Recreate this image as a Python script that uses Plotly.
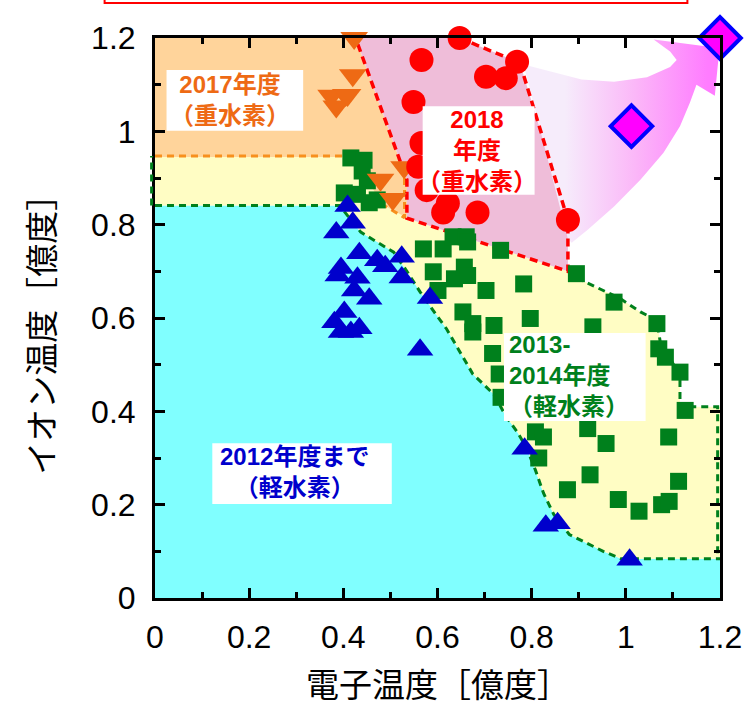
import plotly.graph_objects as go

# ---- axis ticks ----
x_ticks = [0, 0.2, 0.4, 0.6, 0.8, 1.0, 1.2]
x_tick_text = ["0", "0.2", "0.4", "0.6", "0.8", "1", "1.2"]
y_ticks = [0, 0.2, 0.4, 0.6, 0.8, 1.0, 1.2]
y_tick_text = ["0", "0.2", "0.4", "0.6", "0.8", "1", "1.2"]

# ---- measured points: electron temperature Te, ion temperature Ti [億度] ----
# up to FY2012, hydrogen
h2012_te = [0.409, 0.420, 0.385, 0.434, 0.472, 0.524, 0.489, 0.395, 0.388, 0.430,
            0.524, 0.423, 0.455, 0.402, 0.381, 0.434, 0.395, 0.416, 0.584, 0.563,
            0.785, 0.830, 0.855, 1.008]
h2012_ti = [0.840, 0.804, 0.783, 0.739, 0.724, 0.731, 0.711, 0.707, 0.691, 0.686,
            0.687, 0.659, 0.641, 0.613, 0.591, 0.578, 0.570, 0.570, 0.643, 0.532,
            0.320, 0.155, 0.160, 0.082]

# FY2013-2014, hydrogen
h2013_te = [0.416, 0.444, 0.440, 0.451, 0.402, 0.430, 0.455, 0.472,
            0.570, 0.612, 0.633, 0.661, 0.664, 0.734, 0.591, 0.636, 0.657, 0.664,
            0.601, 0.703, 0.783, 0.895, 0.975, 1.066, 0.654, 0.675, 0.720, 0.675,
            0.797, 0.930, 0.717, 0.731, 0.735, 1.070, 1.084, 1.115, 1.126, 0.808,
            0.825, 0.919, 0.958, 1.091, 0.815, 0.924, 0.876, 0.984, 1.028, 1.076,
            1.092, 1.112]
h2013_ti = [0.943, 0.938, 0.915, 0.894, 0.868, 0.865, 0.847, 0.853,
            0.748, 0.748, 0.774, 0.774, 0.763, 0.745, 0.699, 0.684, 0.709, 0.691,
            0.659, 0.659, 0.673, 0.695, 0.634, 0.588, 0.613, 0.588, 0.584, 0.570,
            0.599, 0.581, 0.524, 0.480, 0.430, 0.534, 0.516, 0.484, 0.402, 0.356,
            0.345, 0.363, 0.331, 0.345, 0.300, 0.264, 0.232, 0.211, 0.186, 0.200,
            0.207, 0.250]

# FY2017, deuterium
d2017_te = [0.423, 0.420, 0.405, 0.374, 0.385, 0.409, 0.529, 0.479, 0.505]
d2017_ti = [1.200, 1.120, 1.078, 1.076, 1.053, 1.078, 0.923, 0.896, 0.855]

# FY2018, deuterium
d2018_te = [0.647, 0.566, 0.703, 0.745, 0.769, 0.549, 0.566, 0.559, 0.577,
            0.622, 0.612, 0.685, 0.877]
d2018_ti = [1.200, 1.153, 1.117, 1.114, 1.149, 1.063, 0.975, 0.924, 0.874,
            0.846, 0.826, 0.826, 0.810]

# targets
goal_te = [1.012, 1.2]
goal_ti = [1.011, 1.2]

# ---- region outlines ----
# lower edge of the FY2013-2014 region (upper edge of the FY2012 region)
edge12_te = [0.392, 0.437, 0.479, 0.507, 0.535, 0.563, 0.598, 0.619, 0.675, 0.720,
             0.745, 0.770, 0.790, 0.808, 0.825, 0.847, 0.880, 0.952, 0.990, 1.2]
edge12_ti = [0.841, 0.784, 0.759, 0.741, 0.700, 0.656, 0.606, 0.577, 0.480, 0.436,
             0.390, 0.355, 0.320, 0.274, 0.225, 0.179, 0.136, 0.100, 0.084, 0.084]

# outer edge of the FY2013-2014 region, from the FY2018 corner to the right edge
edge13_te = [0.877, 0.892, 0.989, 1.031, 1.066, 1.073, 1.115, 1.115, 1.195]
edge13_ti = [0.700, 0.688, 0.641, 0.613, 0.595, 0.549, 0.477, 0.410, 0.410]

# FY2017 region
reg17_te = [0, 0, 0.426, 0.535, 0.535, 0.480, 0.440, 0.400]
reg17_ti = [0.945, 1.2, 1.2, 0.896, 0.815, 0.845, 0.920, 0.945]

# FY2018 region
reg18_te = [0.426, 0.647, 0.769, 0.780, 0.877, 0.877, 0.535, 0.535]
reg18_ti = [1.2, 1.2, 1.149, 1.130, 0.810, 0.700, 0.814, 0.896]

# arrow towards the goal
arrow_te = [0.783, 0.836, 0.906, 0.975, 1.045, 1.094, 1.108, 1.094, 1.059, 1.185,
            1.20, 1.189, 1.150, 1.136, 1.115, 1.080, 1.031, 0.975, 0.919, 0.885, 0.877]
arrow_ti = [1.143, 1.129, 1.111, 1.106, 1.116, 1.138, 1.153, 1.171, 1.197, 1.180,
            1.19, 1.076, 1.100, 1.061, 1.011, 0.954, 0.896, 0.839, 0.789, 0.761, 0.770]

# ---- colours ----
C_CYAN = "#80FFFF"
C_YELLOW = "#FFFDC4"
C_ORANGE_FILL = "#FFD49B"
C_PINK = "#EFBDD9"
C_GREEN = "#00801C"
C_BLUE = "#0000CC"
C_ORANGE = "#EE6A14"
C_RED = "#FF0000"

fig = go.Figure()

# FY2012 region: everything under the lower edge
cyan_te = [0, 1.2] + edge12_te[::-1] + [0]
cyan_ti = [0, 0] + edge12_ti[::-1] + [0.841]
fig.add_trace(go.Scatter(x=cyan_te, y=cyan_ti, fill="toself", fillcolor=C_CYAN,
                         mode="lines", line=dict(width=0), hoverinfo="skip"))

# FY2013-2014 region
yel_te = [0, 0, 0.45, 0.535, 0.535] + edge13_te[:-1] + [1.2, 1.2] + edge12_te[-2::-1]
yel_ti = [0.841, 0.95, 0.95, 0.90, 0.814] + edge13_ti[:-1] + [0.410, 0.084] + edge12_ti[-2::-1]
fig.add_trace(go.Scatter(x=yel_te, y=yel_ti, fill="toself", fillcolor=C_YELLOW,
                         mode="lines", line=dict(width=0), hoverinfo="skip"))

fig.add_trace(go.Scatter(x=reg17_te, y=reg17_ti, fill="toself", fillcolor=C_ORANGE_FILL,
                         mode="lines", line=dict(width=0), hoverinfo="skip"))
fig.add_trace(go.Scatter(x=reg18_te, y=reg18_ti, fill="toself", fillcolor=C_PINK,
                         mode="lines", line=dict(width=0), hoverinfo="skip"))

fig.add_trace(go.Scatter(
    x=arrow_te, y=arrow_ti, fill="toself", mode="lines", line=dict(width=0),
    fillgradient=dict(type="horizontal", start=0.86, stop=1.16,
                      colorscale=[[0, "#F6ECFB"], [0.5, "#FBB6F8"], [1, "#FF7CFF"]]),
    hoverinfo="skip"))

# dashed region borders
green_te = [0] + edge12_te + [1.195, 1.195] + edge13_te[::-1]
green_ti = [0.841] + edge12_ti + [0.084, 0.410] + edge13_ti[::-1]
fig.add_trace(go.Scatter(x=green_te, y=green_ti, mode="lines",
                         line=dict(color=C_GREEN, width=3, dash="7px,5px"), hoverinfo="skip"))

orange_te = [0, 0.400, None, 0.480, 0.530, 0.530]
orange_ti = [0.947, 0.947, None, 0.845, 0.815, 0.905]
fig.add_trace(go.Scatter(x=orange_te, y=orange_ti, mode="lines",
                         line=dict(color="#F7901E", width=3, dash="7px,5px"), hoverinfo="skip"))

red_te = reg18_te[1:] + reg18_te[:1]
red_ti = reg18_ti[1:] + reg18_ti[:1]
fig.add_trace(go.Scatter(x=red_te, y=red_ti, mode="lines",
                         line=dict(color=C_RED, width=3.5, dash="8px,5px"), hoverinfo="skip"))

# measured points
fig.add_trace(go.Scatter(x=h2013_te, y=h2013_ti, mode="markers", cliponaxis=False,
                         marker=dict(symbol="square", size=17, color=C_GREEN)))
fig.add_trace(go.Scatter(x=h2012_te, y=h2012_ti, mode="markers", cliponaxis=False,
                         marker=dict(symbol="triangle-up", size=23, color=C_BLUE)))
fig.add_trace(go.Scatter(x=d2017_te, y=d2017_ti, mode="markers", cliponaxis=False,
                         marker=dict(symbol="triangle-down", size=24, color=C_ORANGE)))
fig.add_trace(go.Scatter(x=d2018_te, y=d2018_ti, mode="markers", cliponaxis=False,
                         marker=dict(symbol="circle", size=24, color=C_RED)))
fig.add_trace(go.Scatter(x=goal_te, y=goal_ti, mode="markers", cliponaxis=False,
                         marker=dict(symbol="diamond", size=32, color="#FF00FF",
                                     line=dict(color="#0000FF", width=4))))

# ---- label boxes ----
boxes = [
    (0.0245, 0.3147, 1.0013, 1.1314),
    (0.5685, 0.8062, 0.8642, 1.0536),
    (0.7412, 1.0420, 0.3793, 0.5678),
    (0.1217, 0.5029, 0.2014, 0.3315),
]
shapes = []
for x0, x1, y0, y1 in boxes:
    shapes.append(dict(type="rect", xref="x", yref="y", x0=x0, x1=x1, y0=y0, y1=y1,
                       fillcolor="white", line=dict(width=0), layer="above"))

# left edge of the FY2013-2014 region, just outside the frame
shapes.append(dict(type="line", xref="paper", yref="y", x0=-0.006, x1=-0.006,
                   y0=0.841, y1=0.947, line=dict(color=C_GREEN, width=3, dash="7px,5px")))

# red frame at the top of the page
shapes.append(dict(type="rect", xref="paper", yref="paper", x0=-0.0892, x1=0.9423,
                   y0=1.0625, y1=1.2, fillcolor="white", line=dict(color=C_RED, width=2)))

label_font = "Liberation Sans, Noto Sans CJK JP"
labels = [
    ("2017年度<br>（重水素）", 0.160, 1.068, C_ORANGE, "center", "center"),
    ("2018<br>年度<br>（重水素）", 0.684, 0.960, C_RED, "center", "center"),
    ("2013-<br>2014年度<br>（軽水素）", 0.7470, 0.4768, C_GREEN, "left", "left"),
    ("2012年度まで<br>（軽水素）", 0.296, 0.2706, C_BLUE, "center", "center"),
]
annotations = []
for text, x, y, color, anchor, align in labels:
    annotations.append(dict(text=text, x=x, y=y, xref="x", yref="y", showarrow=False,
                            xanchor=anchor, yanchor="middle", align=align,
                            font=dict(family=label_font, size=24, color=color, weight="bold")))

# axis titles
title_font = "Noto Sans CJK JP"
annotations.append(dict(text="電子温度［億度］", x=0.5, y=-0.152, xref="paper", yref="paper",
                        showarrow=False, xanchor="center", yanchor="middle",
                        font=dict(family=title_font, size=33, color="black")))
annotations.append(dict(text="イオン温度［億度］", x=-0.203, y=0.485, xref="paper", yref="paper",
                        showarrow=False, xanchor="center", yanchor="middle", textangle=-90,
                        font=dict(family=title_font, size=33, color="black")))

axis_common = dict(
    range=[0, 1.2], showgrid=False, zeroline=False,
    ticks="inside", ticklen=10, tickwidth=2.5, tickcolor="black",
    showline=True, linewidth=3, linecolor="black", mirror="allticks",
    tickfont=dict(family="Liberation Sans", size=32, color="black"),
    minor=dict(dtick=0.1, ticks="inside", ticklen=6, tickwidth=2.5, tickcolor="black",
               showgrid=False),
)
fig.update_xaxes(**axis_common, tickvals=x_ticks, ticktext=x_tick_text, ticklabelstandoff=9)
fig.update_yaxes(**axis_common, tickvals=y_ticks, ticktext=y_tick_text, ticklabelstandoff=10)

fig.update_layout(
    width=754, height=707,
    margin=dict(l=155, r=27, t=38, b=109),
    paper_bgcolor="white", plot_bgcolor="white",
    showlegend=False,
    shapes=shapes,
    annotations=annotations,
)

fig.write_html("out.html")
